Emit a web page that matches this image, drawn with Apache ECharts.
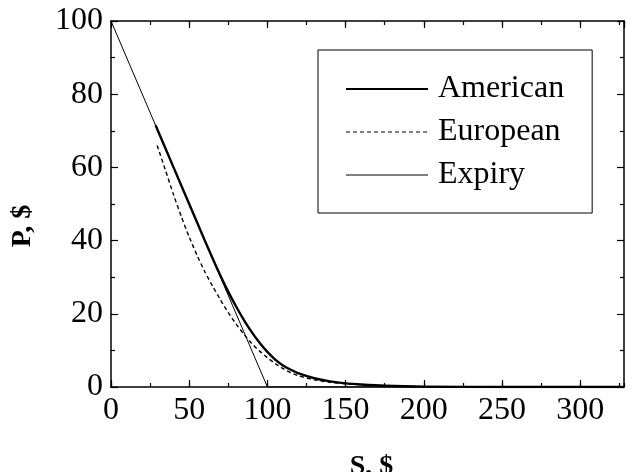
<!DOCTYPE html>
<html><head><meta charset="utf-8">
<script src="https://cdn.jsdelivr.net/npm/echarts@6/dist/echarts.min.js"></script>
<style>html,body{margin:0;padding:0;background:#fff}#c{width:629px;height:472px}</style>
</head><body><div id="c"></div>
<script>
// Data
var sAmerican = [28.5, 40, 50, 60, 65, 70, 75, 80, 85, 90, 95, 100, 105, 110, 115, 120, 130, 140, 150, 160, 175, 200, 250, 328];
var pAmerican = [71.5, 60, 50, 40, 35.1, 30.4, 26.0, 22.0, 18.3, 15.0, 12.1, 9.6, 7.5, 5.9, 4.7, 3.7, 2.4, 1.55, 1.0, 0.68, 0.35, 0.1, 0.02, 0];
var sEuropean = [29.5, 35, 40, 45, 50, 55, 60, 65, 70, 75, 80, 85, 90, 95, 100, 105, 110, 115, 120, 130, 140, 150, 160, 175, 200, 250, 328];
var pEuropean = [66, 59, 52.5, 46.5, 41, 36, 31.5, 27.5, 23.8, 20.3, 17.2, 14.4, 11.9, 9.8, 8.0, 6.4, 5.0, 3.9, 3.05, 1.95, 1.3, 0.9, 0.6, 0.3, 0.1, 0.02, 0];
var sExpiry = [0, 100, 328];
var pExpiry = [100, 0, 0];
var seriesNames = ['American', 'European', 'Expiry'];
var xTitle = 'S, $';
var yTitle = 'P, $';

function pairs(xs, ys) { return xs.map(function (x, i) { return [x, ys[i]]; }); }

var FONT = 'Liberation Serif';
var XMAX = 328;
function xAx(pos, interval, len, showLine, showLabel, extra) {
  var o = {
    type: 'value', position: pos, min: 0, max: XMAX, interval: interval,
    axisLine: { show: showLine, onZero: false, lineStyle: { color: '#000', width: 1.5 } },
    axisTick: { show: true, inside: true, length: len, lineStyle: { color: '#000', width: 1.2 } },
    axisLabel: { show: showLabel, showMaxLabel: false, fontFamily: FONT, fontSize: 32, color: '#000', margin: 8 },
    splitLine: { show: false }
  };
  return Object.assign(o, extra || {});
}
function yAx(pos, showLabel, extra) {
  var o = {
    type: 'value', position: pos, min: 0, max: 100, interval: 20,
    axisLine: { show: true, onZero: false, lineStyle: { color: '#000', width: 1.5 } },
    axisTick: { show: true, inside: true, length: 7, lineStyle: { color: '#000', width: 1.2 } },
    minorTick: { show: true, splitNumber: 2, length: 4, lineStyle: { color: '#000', width: 1.2 } },
    axisLabel: { show: showLabel, fontFamily: FONT, fontSize: 32, color: '#000', margin: 8 },
    splitLine: { show: false }
  };
  return Object.assign(o, extra || {});
}

var chart = echarts.init(document.getElementById('c'), null, { renderer: 'canvas' });
chart.setOption({
  animation: false,
  backgroundColor: '#fff',
  grid: { left: 111, right: 5, top: 21, bottom: 85, outerBoundsMode: 'none', containLabel: false },
  xAxis: [
    xAx('bottom', 50, 7, true, true, {
      name: xTitle, nameLocation: 'middle', nameGap: 66,
      nameTextStyle: { fontFamily: FONT, fontSize: 28, fontWeight: 'bold', color: '#000', padding: [0, 0, 0, 8] }
    }),
    xAx('bottom', 25, 4, false, false),
    xAx('top', 50, 7, true, false),
    xAx('top', 25, 4, false, false)
  ],
  yAxis: [
    yAx('left', true, {
      name: yTitle, nameLocation: 'middle', nameGap: 74, nameRotate: 90,
      nameTextStyle: { fontFamily: FONT, fontSize: 28, fontWeight: 'bold', color: '#000', padding: [0, 44, 0, 0] }
    }),
    yAx('right', false)
  ],
  legend: {
    orient: 'vertical', left: 318, top: 50,
    padding: [23, 28, 22, 27], itemGap: 11, itemWidth: 82, itemHeight: 14,
    borderColor: '#000', borderWidth: 1, backgroundColor: '#fff',
    itemStyle: { color: 'transparent', borderWidth: 0 },
    textStyle: { fontFamily: FONT, fontSize: 32, lineHeight: 30, color: '#000', padding: [0, 0, 0, 5] },
    data: [
      { name: seriesNames[0], lineStyle: { color: '#000', width: 2 } },
      { name: seriesNames[1], lineStyle: { color: '#000', width: 1, type: [4, 3] } },
      { name: seriesNames[2], lineStyle: { color: '#000', width: 1 } }
    ]
  },
  series: [
    { name: seriesNames[0], type: 'line', data: pairs(sAmerican, pAmerican), symbol: 'none',
      smooth: 0.2, color: '#000', lineStyle: { color: '#000', width: 2.4, join: 'round' }, z: 3 },
    { name: seriesNames[1], type: 'line', data: pairs(sEuropean, pEuropean), symbol: 'none',
      smooth: 0.2, color: '#000', lineStyle: { color: '#000', width: 1.4, type: [4, 3] }, z: 2 },
    { name: seriesNames[2], type: 'line', data: pairs(sExpiry, pExpiry), symbol: 'none',
      color: '#000', lineStyle: { color: '#000', width: 1 }, z: 1 }
  ]
});
</script></body></html>
